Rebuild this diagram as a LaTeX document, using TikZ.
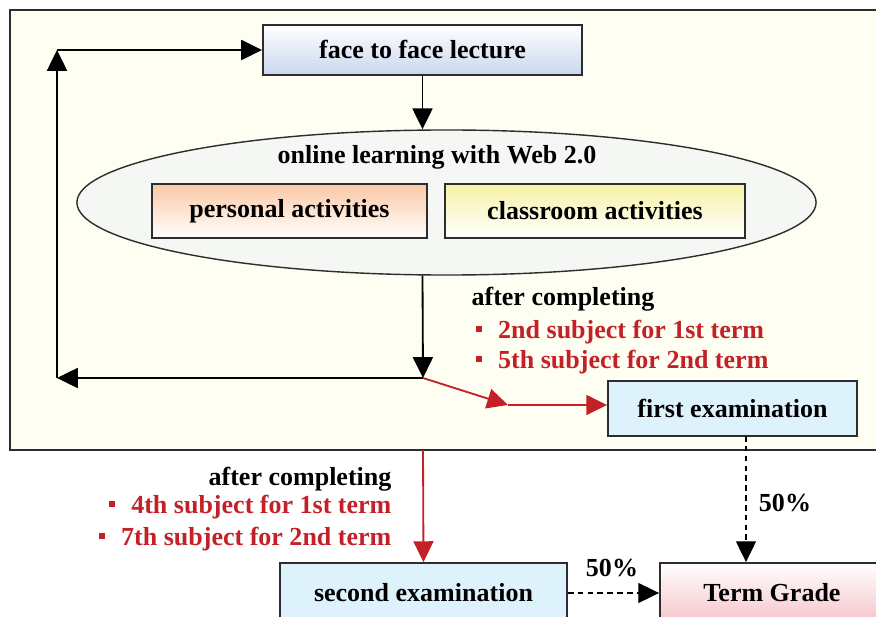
\documentclass[tikz,border=0pt]{standalone}
\usepackage{fontspec}
\setmainfont{Liberation Serif}
\usetikzlibrary{shapes.geometric,arrows.meta}
\definecolor{frameback}{RGB}{255,254,242}
\definecolor{ovalback}{RGB}{245,247,244}
\definecolor{lineg}{RGB}{45,45,45}
\definecolor{facebot}{RGB}{200,215,238}
\definecolor{perstop}{RGB}{250,200,165}
\definecolor{classtop}{RGB}{246,242,165}
\definecolor{examfill}{RGB}{222,242,252}
\definecolor{gradebot}{RGB}{246,196,202}
\definecolor{exred}{RGB}{196,32,40}
\newcommand{\redbul}{\rule[0.22em]{0.25em}{0.25em}\hspace{0.62em}}
\begin{document}
\begin{tikzpicture}[x=0.025cm, y=-0.025cm, line width=1.3pt,
		font=\fontsize{18.5}{22}\selectfont\bfseries,
		>={Triangle[length=0.52cm,width=0.5cm]},
		boxnode/.style={draw=lineg, line width=1.3pt, inner sep=0pt},
		examnode/.style={boxnode, fill=examfill},
		redline/.style={draw=exred, color=exred},
		dashline/.style={dash pattern=on 4pt off 3pt, line width=1pt}]
		\useasboundingbox (0, 0) rectangle (876, 617);
		\clip (0, 0) rectangle (876, 617);
		\draw [draw=lineg, fill=frameback] (10, 10) rectangle (900, 450);

		\node [boxnode, top color=white, bottom color=facebot, minimum width=7.975cm, minimum height=1.25cm] (1) at (422.5, 50) {face to face lecture};
		\node [draw=lineg, line width=1pt, fill=ovalback, ellipse, minimum width=18.475cm, minimum height=3.625cm] (2) at (446.5, 202.5) {};
		\node [] (9) at (437, 157) {online learning with Web 2.0};
		\node [boxnode, top color=perstop, bottom color=white, minimum width=6.875cm, minimum height=1.35cm] (10) at (289.5, 211) {personal activities};
		\node [boxnode, top color=classtop, bottom color=white, minimum width=7.5cm, minimum height=1.35cm] (11) at (595, 211) {classroom activities};
		\node [examnode, minimum width=6.225cm, minimum height=1.375cm] (3) at (732.5, 408.5) {first examination};
		\node [examnode, minimum width=7.175cm, minimum height=1.5cm] (4) at (423.5, 593) {second examination};
		\node [boxnode, top color=white, bottom color=gradebot, minimum width=5.6cm, minimum height=1.5cm] (5) at (772, 593) {Term Grade};

		\node [inner sep=0pt] (6) at (423, 378) {};
		\node [inner sep=0pt] (7) at (508, 405) {};
		\node [inner sep=0pt] (8) at (57, 378) {};
		\node [inner sep=0pt] (12) at (57, 50) {};
		\node [inner sep=0pt] (13) at (423, 450) {};
		\node [inner sep=0pt] (14) at (746, 436) {};

		\draw [->] (1.south) to (1.south |- 2.north);
		\draw [->] (1.south |- 2.south) to (6.center);
		\draw [->] (6.center) to (8.center);
		\draw [->] (8.center) to (12.center);
		\draw [->] (12.center) to (1.west);
		\draw [redline, ->] (6.center) to (7.center);
		\draw [redline, ->] (7.center) to (7.center -| 3.west);
		\draw [redline, ->] (13.center) to (4.north);
		\draw [dashline, ->] (14.center) to (14.center |- 5.north);
		\draw [dashline, ->] (4.east) to (5.west);

		\draw (466, 306) node [anchor=base west] {after completing};
		\draw (470, 338) node [anchor=base west, text=exred] {\redbul 2nd subject for 1st term};
		\draw (470, 368) node [anchor=base west, text=exred] {\redbul 5th subject for 2nd term};
		\draw (397, 485) node [anchor=base east] {after completing};
		\draw (397, 513) node [anchor=base east, text=exred] {\redbul 4th subject for 1st term};
		\draw (397, 545) node [anchor=base east, text=exred] {\redbul 7th subject for 2nd term};
		\draw (785, 503) node {50\%};
		\draw (612, 568) node {50\%};
\end{tikzpicture}
\end{document}
